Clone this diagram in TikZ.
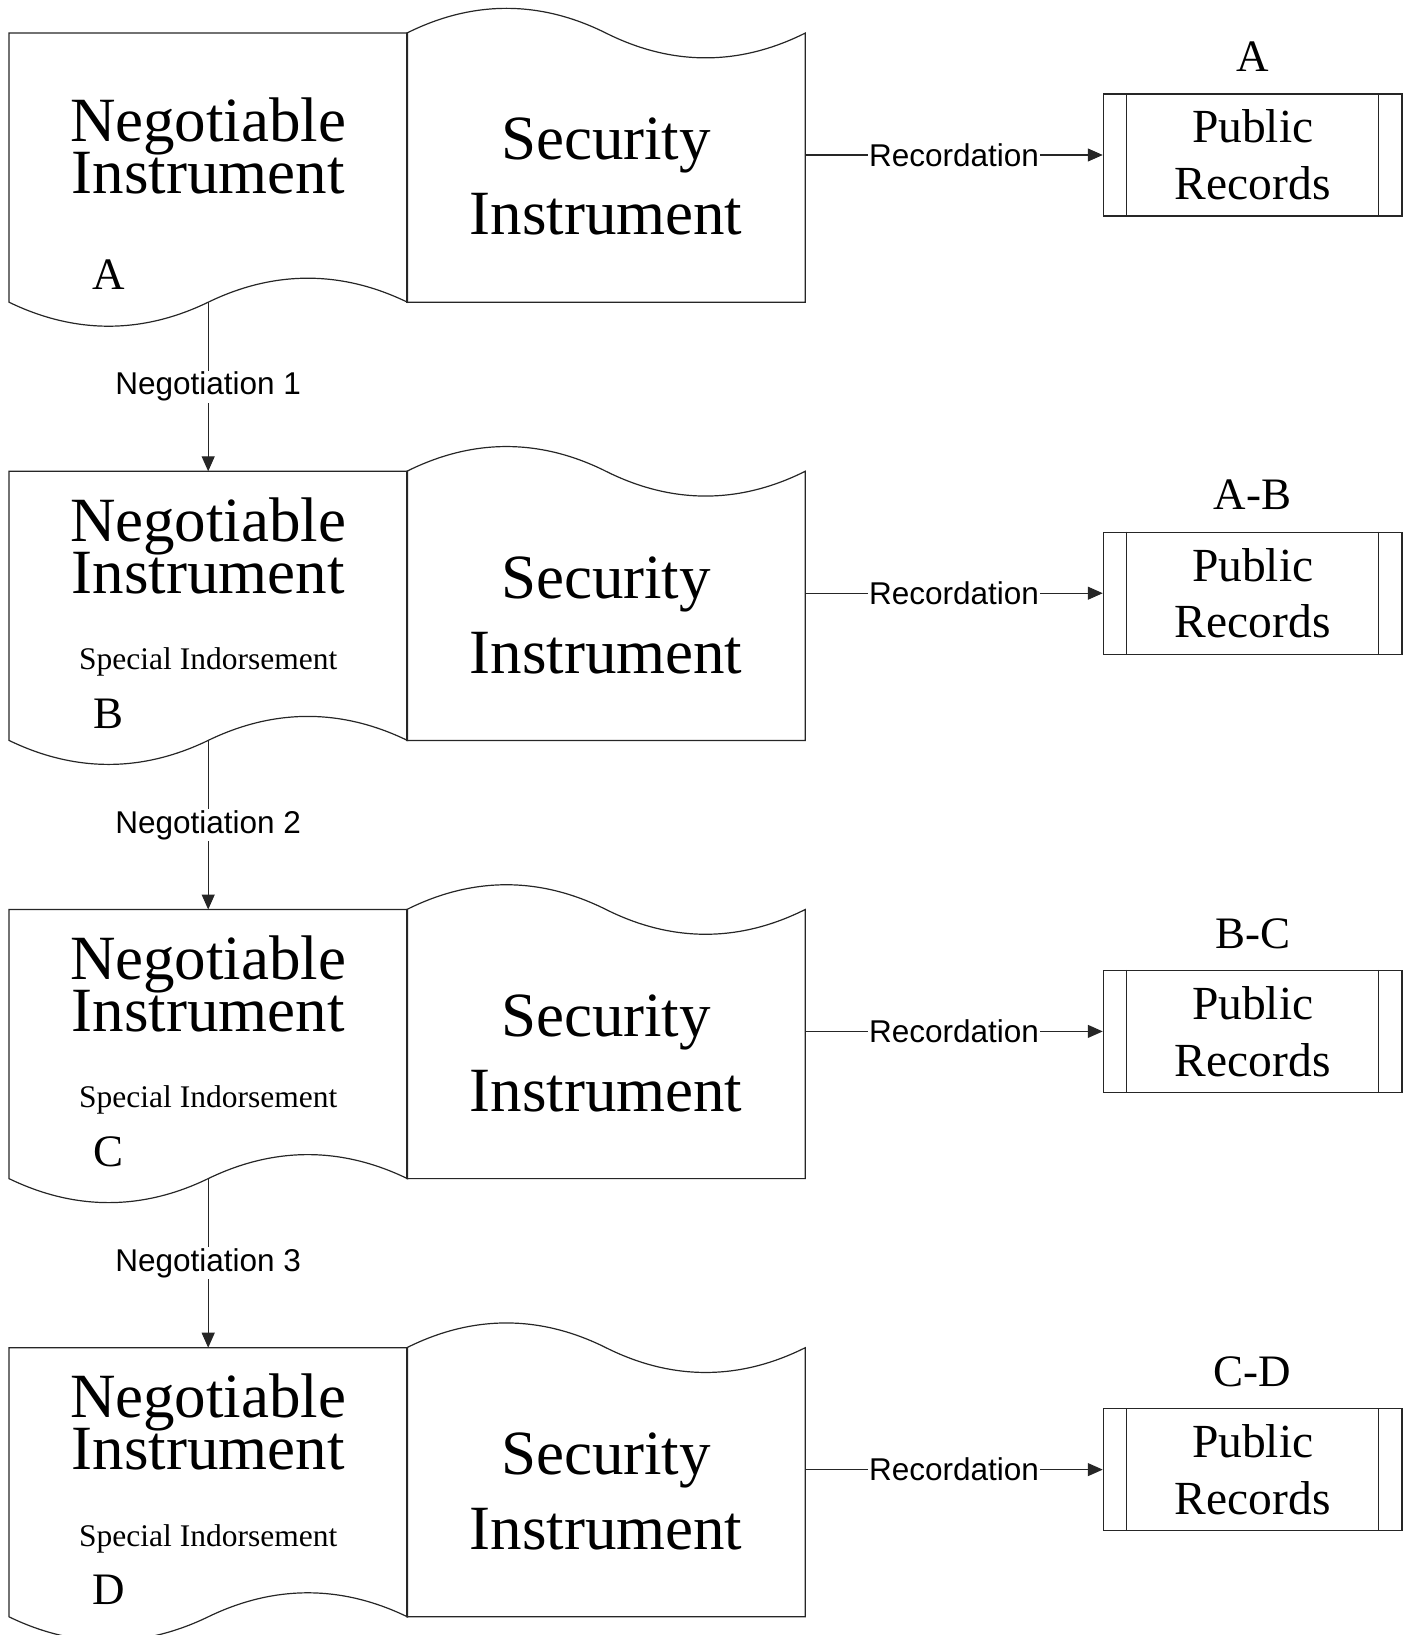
\documentclass[tikz,border=0pt]{standalone}
\usepackage{fontspec}
\setmainfont{Liberation Serif}
\setsansfont{Liberation Sans}
\usetikzlibrary{arrows.meta}

\tikzset{
  docbody/.style={rectangle, inner sep=0pt, minimum width=398pt, minimum height=268.7pt},
  outline/.style={draw=black!85, line width=1.2pt},
  records/.style={rectangle, draw=black!85, line width=1.2pt, inner sep=0pt, align=center,
    minimum width=298.7pt, minimum height=122pt, font=\fontsize{47.5}{56.7}\selectfont},
  tight/.style={execute at begin node=\setlength\lineskiplimit{-100pt}},
  negtext/.style={anchor=base, align=center, inner sep=0pt, tight,
    font=\fontsize{63}{51.7}\selectfont},
  sectext/.style={anchor=base, align=center, inner sep=0pt, tight,
    font=\fontsize{63}{75}\selectfont},
  endorse/.style={anchor=base, inner sep=0pt, font=\fontsize{31.5}{36}\selectfont},
  party/.style={anchor=base, inner sep=0pt, font=\fontsize{45}{50}\selectfont},
  flow/.style={draw=black!85, line width=1.2pt, -{Triangle[length=15pt,width=13pt]}},
  lbl/.style={fill=white, inner sep=1.5pt, font=\sffamily\fontsize{31.5}{36}\selectfont}
}

\begin{document}
\begin{tikzpicture}[x=1pt,y=-1pt]
\useasboundingbox (0,0) rectangle (1408,1635);
\clip (0,0) rectangle (1408,1635);

% row 1
\node [docbody] (ni1) at (208.2,167.65) {};
\node [docbody] (si1) at (606,167.65) {};
\draw [outline] (ni1.south east) .. controls +(-66,-32) and +(66,-32) .. (ni1.south)
  .. controls +(-66,32) and +(66,32) .. (ni1.south west) -- (ni1.north west) -- (ni1.north east) -- cycle;
\draw [outline] (si1.north west) .. controls +(66,-33) and +(-66,-33) .. (si1.north)
  .. controls +(66,33) and +(-66,33) .. (si1.north east) -- (si1.south east) -- (si1.south west) -- cycle;
\node [negtext] (nt1) at ([yshift=-160pt]ni1.north) {Negotiable\\Instrument};
\node [party] (pa1) at ([xshift=-99.2pt,yshift=-256.7pt]ni1.north) {A};
\node [sectext] (st1) at ([yshift=-201.7pt]si1.north) {Security\\Instrument};
\node [records] (pr1) at (1252.7,155) {Public\\Records};
\draw [outline] ([xshift=24pt]pr1.north west) -- ([xshift=24pt]pr1.south west);
\draw [outline] ([xshift=-24.5pt]pr1.north east) -- ([xshift=-24.5pt]pr1.south east);
\node [party] (pl1) at ([yshift=21.7pt]pr1.north) {A};
\draw [flow] (si1.east |- pr1.west) -- node [lbl] {Recordation} (pr1.west);

% row 2
\node [docbody] (ni2) at (208.2,605.85) {};
\node [docbody] (si2) at (606,605.85) {};
\draw [outline] (ni2.south east) .. controls +(-66,-32) and +(66,-32) .. (ni2.south)
  .. controls +(-66,32) and +(66,32) .. (ni2.south west) -- (ni2.north west) -- (ni2.north east) -- cycle;
\draw [outline] (si2.north west) .. controls +(66,-33) and +(-66,-33) .. (si2.north)
  .. controls +(66,33) and +(-66,33) .. (si2.north east) -- (si2.south east) -- (si2.south west) -- cycle;
\node [negtext] (nt2) at ([yshift=-121.7pt]ni2.north) {Negotiable\\Instrument};
\node [endorse] (en2) at ([yshift=-198.3pt]ni2.north) {Special Indorsement};
\node [party] (pa2) at ([xshift=-99.2pt,yshift=-256.7pt]ni2.north) {B};
\node [sectext] (st2) at ([yshift=-201.7pt]si2.north) {Security\\Instrument};
\node [records] (pr2) at (1252.7,593.2) {Public\\Records};
\draw [outline] ([xshift=24pt]pr2.north west) -- ([xshift=24pt]pr2.south west);
\draw [outline] ([xshift=-24.5pt]pr2.north east) -- ([xshift=-24.5pt]pr2.south east);
\node [party] (pl2) at ([yshift=21.7pt]pr2.north) {A-B};
\draw [flow] (si2.east |- pr2.west) -- node [lbl] {Recordation} (pr2.west);
\draw [flow] (ni1.south) -- node [lbl] {Negotiation 1} (ni2.north);

% row 3
\node [docbody] (ni3) at (208.2,1044.05) {};
\node [docbody] (si3) at (606,1044.05) {};
\draw [outline] (ni3.south east) .. controls +(-66,-32) and +(66,-32) .. (ni3.south)
  .. controls +(-66,32) and +(66,32) .. (ni3.south west) -- (ni3.north west) -- (ni3.north east) -- cycle;
\draw [outline] (si3.north west) .. controls +(66,-33) and +(-66,-33) .. (si3.north)
  .. controls +(66,33) and +(-66,33) .. (si3.north east) -- (si3.south east) -- (si3.south west) -- cycle;
\node [negtext] (nt3) at ([yshift=-121.7pt]ni3.north) {Negotiable\\Instrument};
\node [endorse] (en3) at ([yshift=-198.3pt]ni3.north) {Special Indorsement};
\node [party] (pa3) at ([xshift=-99.2pt,yshift=-256.7pt]ni3.north) {C};
\node [sectext] (st3) at ([yshift=-201.7pt]si3.north) {Security\\Instrument};
\node [records] (pr3) at (1252.7,1031.4) {Public\\Records};
\draw [outline] ([xshift=24pt]pr3.north west) -- ([xshift=24pt]pr3.south west);
\draw [outline] ([xshift=-24.5pt]pr3.north east) -- ([xshift=-24.5pt]pr3.south east);
\node [party] (pl3) at ([yshift=21.7pt]pr3.north) {B-C};
\draw [flow] (si3.east |- pr3.west) -- node [lbl] {Recordation} (pr3.west);
\draw [flow] (ni2.south) -- node [lbl] {Negotiation 2} (ni3.north);

% row 4
\node [docbody] (ni4) at (208.2,1482.25) {};
\node [docbody] (si4) at (606,1482.25) {};
\draw [outline] (ni4.south east) .. controls +(-66,-32) and +(66,-32) .. (ni4.south)
  .. controls +(-66,32) and +(66,32) .. (ni4.south west) -- (ni4.north west) -- (ni4.north east) -- cycle;
\draw [outline] (si4.north west) .. controls +(66,-33) and +(-66,-33) .. (si4.north)
  .. controls +(66,33) and +(-66,33) .. (si4.north east) -- (si4.south east) -- (si4.south west) -- cycle;
\node [negtext] (nt4) at ([yshift=-121.7pt]ni4.north) {Negotiable\\Instrument};
\node [endorse] (en4) at ([yshift=-198.3pt]ni4.north) {Special Indorsement};
\node [party] (pa4) at ([xshift=-99.2pt,yshift=-256.7pt]ni4.north) {D};
\node [sectext] (st4) at ([yshift=-201.7pt]si4.north) {Security\\Instrument};
\node [records] (pr4) at (1252.7,1469.6) {Public\\Records};
\draw [outline] ([xshift=24pt]pr4.north west) -- ([xshift=24pt]pr4.south west);
\draw [outline] ([xshift=-24.5pt]pr4.north east) -- ([xshift=-24.5pt]pr4.south east);
\node [party] (pl4) at ([yshift=21.7pt]pr4.north) {C-D};
\draw [flow] (si4.east |- pr4.west) -- node [lbl] {Recordation} (pr4.west);
\draw [flow] (ni3.south) -- node [lbl] {Negotiation 3} (ni4.north);
\end{tikzpicture}
\end{document}
